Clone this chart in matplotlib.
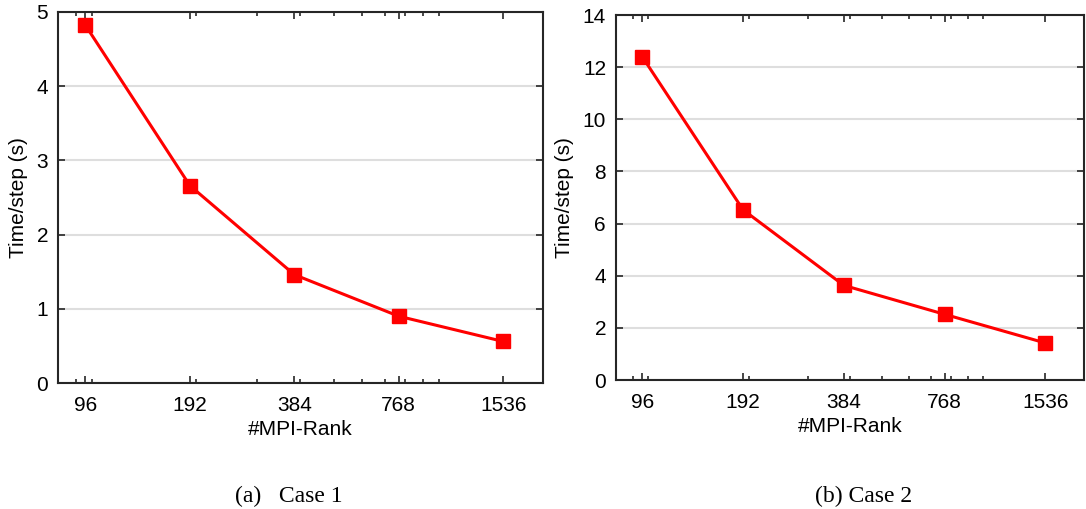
import numpy as np
import matplotlib.pyplot as plt
from matplotlib.ticker import FixedLocator, NullFormatter, LogLocator

plt.rcParams['font.family'] = ['Liberation Sans', 'DejaVu Sans']

ranks = [96, 192, 384, 768, 1536]
case1_time = [4.82, 2.66, 1.46, 0.90, 0.56]
case2_time = [12.4, 6.53, 3.63, 2.52, 1.42]
rank_labels = ['96', '192', '384', '768', '1536']
captions = ['(a)   Case 1', '(b) Case 2']


def panel(ax, y, ymax, ystep):
    ax.plot(ranks, y, color='#ff0000', lw=2.2, marker='s', ms=9.5, zorder=3)
    ax.set_xscale('log')
    ax.set_xlim(80, 2000)
    ax.set_ylim(0, ymax)
    ax.xaxis.set_major_locator(FixedLocator(ranks))
    ax.set_xticklabels(rank_labels)
    ax.xaxis.set_minor_locator(LogLocator(base=10, subs=np.arange(1, 10)))
    ax.xaxis.set_minor_formatter(NullFormatter())
    ax.set_yticks(np.arange(0, ymax + 0.01, ystep))
    ax.grid(axis='y', color='#dedede', lw=1.5, zorder=0)
    ax.tick_params(which='both', direction='in', top=True, right=True,
                   labelsize=15, colors='#262626', length=5, width=1.2)
    ax.tick_params(which='minor', length=3)
    ax.tick_params(labelcolor='black')
    ax.tick_params(axis='x', pad=9)
    ax.tick_params(axis='y', pad=7)
    for s in ax.spines.values():
        s.set_linewidth(1.5)
        s.set_color('#262626')
    ax.set_xlabel('#MPI-Rank', fontsize=15, labelpad=4)
    ax.set_ylabel('Time/step (s)', fontsize=15, labelpad=6)


fig = plt.figure(figsize=(10.86, 5.09), dpi=100)
ax1 = fig.add_axes([0.0534, 0.2475, 0.4466, 0.729])
ax2 = fig.add_axes([0.567, 0.2534, 0.431, 0.717])
panel(ax1, case1_time, 5, 1)
panel(ax2, case2_time, 14, 2)

fig.text(0.266, 0.014, captions[0], family='Liberation Serif', fontsize=17, ha='center')
fig.text(0.795, 0.014, captions[1], family='Liberation Serif', fontsize=17, ha='center')

fig.savefig('out.png', dpi=100)
